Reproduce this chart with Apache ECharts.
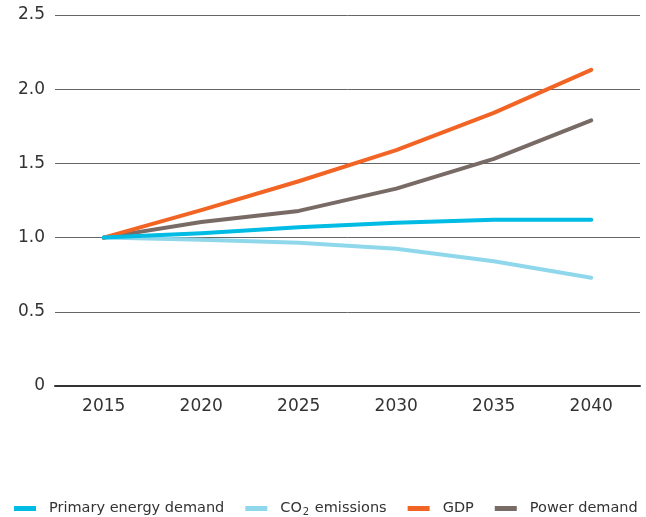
<!DOCTYPE html>
<html>
<head>
<meta charset="utf-8">
<script src="https://cdn.jsdelivr.net/npm/echarts@6/dist/echarts.min.js"></script>
<style>
  html, body { margin: 0; padding: 0; background: #fff; }
  #chart { width: 646px; height: 517px; }
</style>
</head>
<body>
<div id="chart"></div>
<script>
const years = ['2015', '2020', '2025', '2030', '2035', '2040'];
const primaryEnergy = [1.0, 1.03, 1.07, 1.10, 1.12, 1.12];
const co2 = [1.0, 0.985, 0.965, 0.925, 0.84, 0.73];
const gdp = [1.0, 1.185, 1.38, 1.59, 1.84, 2.13];
const powerDemand = [1.0, 1.105, 1.18, 1.33, 1.53, 1.79];
const yTicks = [0, 0.5, 1.0, 1.5, 2.0, 2.5];

const font = 'DejaVu Sans, sans-serif';

function line(name, data, color) {
    return {
        name: name,
        type: 'line',
        data: data,
        symbol: 'none',
        lineStyle: { color: color, width: 4, cap: 'round', join: 'round' },
        itemStyle: { color: color }
    };
}

let myChart = echarts.init(document.getElementById('chart'));
let option = {
    animation: false,
    textStyle: { fontFamily: font },
    legend: {
        left: 14,
        top: 501,
        width: 632,
        padding: 0,
        itemWidth: 22,
        itemHeight: 5,
        itemGap: 21,
        icon: 'rect',
        data: ['Primary energy demand', 'CO2 emissions', 'GDP', 'Power demand'],
        // 图例文字，CO2 的 2 用下标
        formatter: name => {
            if (name === 'CO2 emissions') {
                return '{sp|}{t|CO}{sub|2}{t| emissions}';
            }
            return '{sp|}{t|' + name + '}';
        },
        textStyle: {
            color: '#333',
            fontSize: 14.5,
            fontFamily: font,
            rich: {
                sp: { width: 8 },
                t: { color: '#333', fontSize: 14.5, fontFamily: font },
                sub: { color: '#333', fontSize: 10, fontFamily: font, padding: [8, 1, 0, 1] }
            }
        }
    },
    grid: {
        left: 55,
        right: 6,
        top: 15,
        bottom: 131
    },
    xAxis: {
        type: 'category',
        boundaryGap: true,
        data: years,
        axisTick: { show: false },
        axisLine: { show: true, lineStyle: { color: '#333', width: 2 } },
        axisLabel: { color: '#333', fontSize: 17, margin: 12, fontFamily: font }
    },
    yAxis: {
        type: 'value',
        min: yTicks[0],
        max: yTicks[yTicks.length - 1],
        interval: 0.5,
        axisLine: { show: false },
        axisTick: { show: false },
        axisLabel: {
            color: '#333',
            fontSize: 17,
            margin: 10,
            fontFamily: font,
            formatter: v => v === 0 ? '0' : v.toFixed(1)
        },
        splitLine: { show: true, lineStyle: { color: '#666', width: 1 } }
    },
    series: [
        line('CO2 emissions', co2, '#8fd8ec'),
        line('Power demand', powerDemand, '#786a65'),
        line('GDP', gdp, '#f26424'),
        line('Primary energy demand', primaryEnergy, '#00bbe3')
    ]
};
myChart.setOption(option, true);
</script>
</body>
</html>
